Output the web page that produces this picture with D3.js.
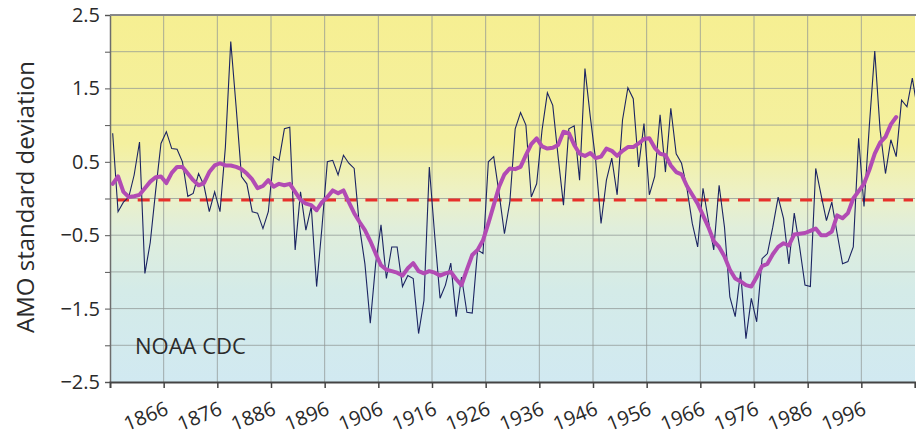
<!DOCTYPE html>
<html>
<head>
<meta charset="utf-8">
<script src="https://cdn.jsdelivr.net/npm/d3@7"></script>
<style>
  body { margin: 0; background: #fff; }
  text { font-family: "Open Sans", "Noto Sans", sans-serif; fill: #2a2a2a; }
</style>
</head>
<body>
<svg id="amo" width="916" height="438"></svg>
<script>
// AMO index, annual values 1856-2006
const firstYear = 1856;
const amoAnnual = [
  0.89, -0.18, -0.05, 0.02, 0.32, 0.77, -1.02, -0.6, 0.1, 0.75,
  0.91, 0.68, 0.67, 0.5, 0.03, 0.07, 0.34, 0.18, -0.18, 0.09,
  -0.18, 0.7, 2.14, 1.25, 0.3, 0.2, -0.18, -0.2, -0.41, -0.18,
  0.57, 0.52, 0.95, 0.97, -0.7, 0.09, -0.43, -0.11, -1.2, -0.39,
  0.5, 0.52, 0.32, 0.59, 0.48, 0.41, -0.39, -0.89, -1.7, -0.89,
  -0.36, -1.09, -0.66, -0.66, -1.2, -1.05, -1.09, -1.84, -1.39, 0.43,
  -0.5, -1.36, -1.18, -0.88, -1.61, -1.07, -1.55, -1.56, -0.7, -0.75,
  0.5, 0.57, 0.07, -0.48, -0.05, 0.95, 1.17, 1.0, 0.02, 0.2,
  0.93, 1.44, 1.27, 0.57, -0.09, 0.95, 0.99, 0.25, 1.77, 1.11,
  0.52, -0.34, 0.25, 0.55, 0.05, 1.07, 1.51, 1.36, 0.43, 1.02,
  0.05, 0.3, 1.14, 0.36, 1.23, 0.61, 0.48, 0.14, -0.34, -0.66,
  0.14, -0.3, -0.7, 0.18, -0.39, -1.34, -1.61, -1.0, -1.91, -1.36,
  -1.68, -0.82, -0.75, -0.39, 0.02, -0.27, -0.89, -0.2, -0.66, -1.18,
  -1.2, 0.41, 0.05, -0.3, -0.05, -0.48, -0.89, -0.86, -0.66, 0.82,
  -0.11, 1.0, 2.01, 0.93, 0.34, 0.8, 0.57, 1.34, 1.25, 1.64,
  1.2
];
// smoothed curve 1856-2002
const amoSmooth = [
  0.2, 0.3, 0.09, 0.02, 0.03, 0.05, 0.14, 0.23, 0.29, 0.3,
  0.21, 0.35, 0.43, 0.43, 0.34, 0.25, 0.18, 0.21, 0.36, 0.45,
  0.48, 0.45, 0.45, 0.43, 0.4, 0.34, 0.26, 0.14, 0.17, 0.25,
  0.16, 0.2, 0.18, 0.2, 0.09, -0.02, -0.07, -0.09, -0.16, -0.05,
  0.02, 0.11, 0.07, 0.11, -0.05, -0.2, -0.32, -0.43, -0.58, -0.75,
  -0.91, -0.97, -0.99, -1.01, -1.05, -0.95, -0.88, -0.99, -1.02, -0.99,
  -1.01, -1.05, -1.02, -1.0, -1.1, -1.18, -0.97, -0.77, -0.7, -0.57,
  -0.34, -0.09, 0.16, 0.33, 0.41, 0.4, 0.43, 0.59, 0.74, 0.82,
  0.71, 0.68, 0.69, 0.73, 0.91, 0.89, 0.73, 0.61, 0.58, 0.62,
  0.55, 0.57, 0.68, 0.65, 0.58, 0.65, 0.7, 0.7, 0.75, 0.81,
  0.82, 0.69, 0.61, 0.59, 0.45, 0.36, 0.33, 0.17, 0.05, -0.07,
  -0.23, -0.39, -0.58, -0.66, -0.79, -0.97, -1.09, -1.13, -1.18, -1.2,
  -1.07, -0.92, -0.89, -0.76, -0.66, -0.61, -0.64, -0.49, -0.48, -0.47,
  -0.44, -0.41, -0.5, -0.5, -0.45, -0.23, -0.27, -0.2, 0.0, 0.1,
  0.2, 0.39, 0.61, 0.76, 0.84, 1.01, 1.11
];
const xTicks = [1866, 1876, 1886, 1896, 1906, 1916, 1926, 1936, 1946, 1956, 1966, 1976, 1986, 1996];
const yLabels = [-2.5, -1.5, -0.5, 0.5, 1.5, 2.5];
const yGrid = [-2, -1.5, -1, -0.5, 0, 0.5, 1, 1.5, 2];
const yTickMarks = [-2.5, -2, -1.5, -1, -0.5, 0, 0.5, 1, 1.5, 2, 2.5];

const svg = d3.select("#amo");
const plotLeft = 110, plotRight = 915, plotTop = 15, plotBottom = 382;

const x = d3.scaleLinear().domain([1856, 2006]).range([plotLeft, plotRight]);
const y = d3.scaleLinear().domain([-2.5, 2.5]).range([plotBottom, plotTop]);

const annual = amoAnnual.map((v, i) => ({ year: firstYear + i, v: v }));
const smooth = amoSmooth.map((v, i) => ({ year: firstYear + i, v: v }));

// background gradient, yellow to pale blue
const defs = svg.append("defs");
const grad = defs.append("linearGradient")
    .attr("id", "bg").attr("gradientUnits", "userSpaceOnUse")
    .attr("x1", 0).attr("x2", 0).attr("y1", plotTop).attr("y2", plotBottom);
[["0%", "#f6ef92"], ["35%", "#f4f09f"], ["48%", "#edf1c4"], ["58%", "#e0eedb"],
 ["75%", "#d4ebe8"], ["100%", "#d1e9f1"]].forEach(s =>
    grad.append("stop").attr("offset", s[0]).attr("stop-color", s[1]));
defs.append("clipPath").attr("id", "plotclip")
  .append("rect").attr("x", plotLeft).attr("y", plotTop)
  .attr("width", plotRight - plotLeft).attr("height", plotBottom - plotTop);

svg.append("rect")
    .attr("x", plotLeft).attr("y", plotTop)
    .attr("width", plotRight - plotLeft).attr("height", plotBottom - plotTop)
    .attr("fill", "url(#bg)");

// grid
svg.append("g").selectAll("line").data(yGrid).enter().append("line")
    .attr("x1", plotLeft).attr("x2", plotRight)
    .attr("y1", d => y(d)).attr("y2", d => y(d))
    .attr("stroke", "#8f9694").attr("stroke-opacity", 0.75).attr("stroke-width", 1);
svg.append("g").selectAll("line").data(xTicks).enter().append("line")
    .attr("x1", d => x(d)).attr("x2", d => x(d))
    .attr("y1", plotTop).attr("y2", plotBottom)
    .attr("stroke", "#8f9694").attr("stroke-opacity", 0.75).attr("stroke-width", 1);

// y axis
const yAxis = svg.append("g").attr("transform", `translate(${plotLeft},0)`)
    .call(d3.axisLeft(y).tickValues(yTickMarks).tickSize(5).tickFormat(""));
yAxis.select(".domain").attr("stroke", "#6d6d6d").attr("stroke-width", 1.5);
yAxis.selectAll(".tick line").attr("stroke", "#555");

svg.append("g").selectAll("text").data(yLabels).enter().append("text")
    .attr("x", plotLeft - 10).attr("y", d => y(d))
    .attr("dy", "0.35em")
    .attr("text-anchor", "end")
    .style("font-size", "20px")
    .text(d => d3.format(".1f")(d).replace("-", "\u2212"));

// top border
svg.append("line").attr("x1", plotLeft).attr("x2", plotRight + 1)
    .attr("y1", plotTop).attr("y2", plotTop)
    .attr("stroke", "#888").attr("stroke-width", 2);

// x axis
const xAxis = svg.append("g").attr("transform", `translate(0,${plotBottom})`)
    .call(d3.axisBottom(x).tickValues(xTicks.concat([2006])).tickSize(6).tickFormat(""));
xAxis.select(".domain").attr("stroke", "#444").attr("stroke-width", 2);
xAxis.selectAll(".tick line").attr("stroke", "#444").attr("stroke-width", 1.5);

svg.append("g").selectAll("text").data(xTicks).enter().append("text")
    .attr("transform", d => `translate(${x(d) + 6},${plotBottom + 32}) rotate(-22)`)
    .attr("text-anchor", "end")
    .style("font-size", "20px")
    .text(d => d);

// zero line
svg.append("line")
    .attr("x1", plotLeft + 7).attr("x2", plotRight - 2)
    .attr("y1", y(0) + 1.5).attr("y2", y(0) + 1.5)
    .attr("stroke", "#e8302a").attr("stroke-width", 3)
    .attr("stroke-dasharray", "12,8.7");

const plot = svg.append("g").attr("clip-path", "url(#plotclip)");
const line = d3.line().x(d => x(d.year + 0.5)).y(d => y(d.v));

plot.append("path").datum(annual)
    .attr("d", line)
    .attr("fill", "none")
    .attr("stroke", "#1b2462")
    .attr("stroke-width", 1.1)
    .attr("stroke-linejoin", "miter");

plot.append("path").datum(smooth)
    .attr("d", line)
    .attr("fill", "none")
    .attr("stroke", "#b24bb4")
    .attr("stroke-width", 4)
    .attr("stroke-linejoin", "round")
    .attr("stroke-linecap", "round");

// labels
svg.append("text")
    .attr("transform", `translate(34,197) rotate(-90)`)
    .attr("text-anchor", "middle")
    .style("font-size", "24px")
    .text("AMO standard deviation");

svg.append("text")
    .attr("x", 135).attr("y", 354)
    .style("font-size", "22px")
    .text("NOAA CDC");
</script>
</body>
</html>
